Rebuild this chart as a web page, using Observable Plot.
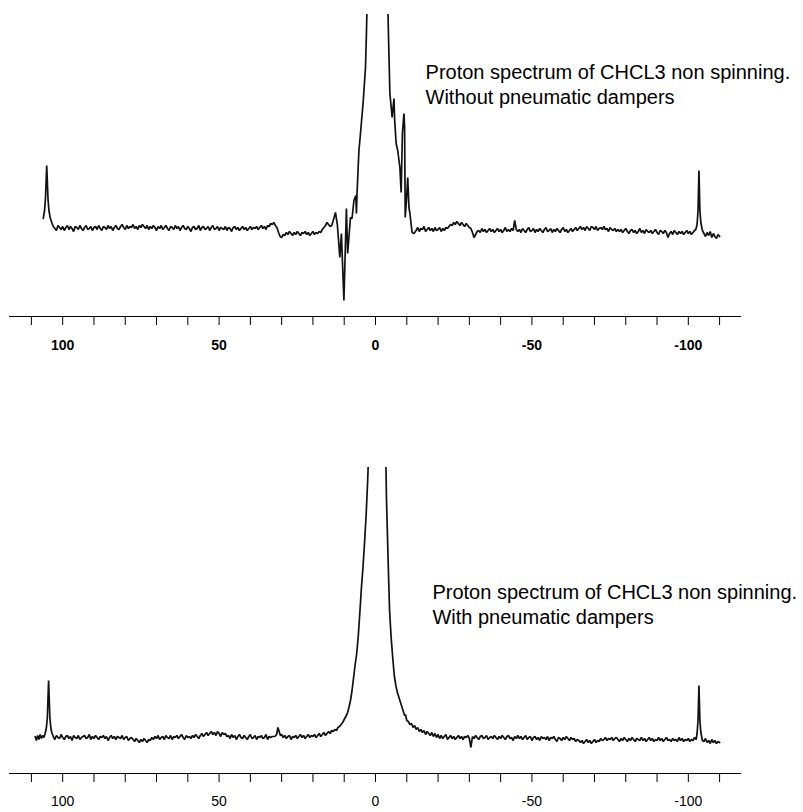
<!DOCTYPE html>
<html>
<head>
<meta charset="utf-8">
<script src="https://cdn.jsdelivr.net/npm/d3@7"></script>
<script src="https://cdn.jsdelivr.net/npm/@observablehq/plot@0.6"></script>
<style>
  html, body { margin: 0; padding: 0; background: #fff; }
  #top, #bottom { display: block; width: 803px; }
  svg { display: block; }
</style>
</head>
<body>
<div id="top"></div>
<div id="bottom"></div>
<script>
// ---------- axis ----------
const xDomain = [117, -117];
const tickValues = [110, 100, 90, 80, 70, 60, 50, 40, 30, 20, 10, 0, -10, -20, -30, -40, -50, -60, -70, -80, -90, -100, -110];
const labelValues = [100, 50, 0, -50, -100];
const baseStep = 0.5; // ppm spacing of the baseline samples below

// ---------- top spectrum (without dampers) ----------
const topYDomain = [-8.8, 21.4];
const topLeftPeak = [[106.2, 1.0], [105.8, 1.8], [105.5, 3.0], [105.1, 6.3], [104.7, 3.0], [104.4, 1.8], [104.0, 1.1], [103.5, 0.6]];
const topBaseAStart = 103;
const topBaseA = [
  0.2, 0.0, -0.2, 0.3, 0.1, -0.1, 0.2, -0.2, 0.1, 0.3,
  -0.1, 0.2, 0.0, -0.3, 0.2, 0.1, -0.1, 0.3, 0.0, -0.2,
  0.1, 0.3, -0.1, 0.0, 0.2, -0.2, 0.1, 0.2, -0.1, 0.3,
  0.0, -0.2, 0.2, 0.1, -0.1, 0.3, 0.0, 0.2, -0.2, 0.1,
  0.3, 0.0, -0.1, 0.2, 0.4, 0.1, -0.1, 0.3, 0.0, 0.2,
  0.1, 0.4, 0.0, 0.2, -0.1, 0.3, 0.1, 0.4, 0.2, 0.0,
  0.3, -0.1, 0.2, 0.0, 0.3, 0.1, -0.2, 0.2, 0.0, 0.3,
  -0.1, 0.1, 0.3, 0.0, -0.2, 0.2, 0.1, -0.1, 0.3, 0.0,
  0.2, -0.2, 0.1, 0.3, 0.0, -0.1, 0.2, 0.0, -0.3, 0.1,
  0.2, -0.1, 0.0, 0.3, -0.2, 0.1, 0.2, -0.1, 0.0, 0.2,
  -0.2, 0.1, 0.3, -0.1, 0.0, 0.2, -0.2, 0.1, 0.0, -0.1,
  0.2, -0.2, 0.1, 0.0, -0.3, 0.1, 0.2, -0.1, 0.1, -0.2,
  0.0, 0.2, -0.1, 0.1, -0.2, 0.0, 0.2, -0.1, 0.1, 0.0,
  0.2, -0.1, 0.1, 0.3, 0.0, 0.2, -0.1, 0.3, 0.2, 0.5,
  0.4, 0.6, 0.3, 0.1, -0.4, -0.8, -0.9, -0.6, -0.7, -0.4,
  -0.6, -0.3, -0.5, -0.7, -0.4, -0.6, -0.3, -0.5, -0.7, -0.4,
  -0.5, -0.3, -0.6, -0.4, -0.7, -0.5, -0.3, -0.6, -0.4, -0.5,
  -0.3, -0.4, -0.1, 0.1, 0.3, 0.6, 0.4, 0.2, 0.3
];
const topCenter = [
  [13.5, 0.8], [12.8, 1.6], [12.2, 0.4], [11.4, -2.9], [10.9, -0.5], [10.1, -7.2], [9.3, 2.0],
  [8.9, -2.5], [8.0, 1.1], [7.5, 1.0], [6.9, 2.8], [6.3, 3.3], [6.1, 1.5], [5.9, 3.5],
  [5.3, 7.8], [4.8, 9.5], [3.9, 12.8], [3.2, 16.1], [2.9, 19.5], [2.5, 25], [1.5, 40],
  [0, 60], [-1.5, 60], [-3.2, 40], [-3.95, 22], [-4.6, 13.5], [-5.0, 12.2], [-5.3, 11.1],
  [-5.9, 13.0], [-6.1, 11.0], [-6.6, 8.5], [-7.1, 7.8], [-7.8, 6.1], [-8.2, 3.6], [-8.6, 9.5],
  [-9.1, 11.5], [-9.3, 10.1], [-9.5, 1.1], [-9.9, 2.8], [-10.3, 5.1], [-10.7, 2.1], [-11.0, 1.5],
  [-11.7, -0.4], [-12.3, -0.5]
];
const topBaseBStart = -13;
const topBaseB = [
  -0.2, 0.1, -0.3, 0.0, -0.1, 0.2, -0.3, -0.1, 0.1, -0.2,
  0.0, -0.3, 0.1, -0.2, -0.1, 0.1, -0.3, 0.0, -0.2, 0.1,
  0.0, 0.2, 0.4, 0.3, 0.6, 0.4, 0.7, 0.5, 0.3, 0.6,
  0.4, 0.2, 0.5, 0.3, 0.1, 0.0, -0.4, -0.9, -0.6, -0.3,
  -0.2, -0.4, 0.0, -0.3, -0.1, -0.4, -0.2, 0.0, -0.3, -0.1,
  -0.4, -0.2, 0.0, -0.3, -0.1, -0.4, -0.2, 0.1, -0.3, -0.1,
  -0.3, 0.0, -0.2, 0.8, -0.1, -0.3, -0.1, -0.4, 0.0, -0.2,
  -0.4, -0.1, 0.1, -0.3, -0.2, 0.0, -0.4, -0.1, -0.3, 0.0,
  -0.2, -0.4, -0.1, 0.1, -0.3, -0.2, 0.0, -0.4, -0.1, -0.3,
  0.0, -0.2, -0.4, -0.1, 0.1, -0.3, -0.1, -0.4, -0.2, 0.0,
  -0.3, -0.1, 0.1, -0.2, 0.0, 0.2, -0.1, 0.1, -0.2, 0.2,
  0.0, -0.2, 0.2, 0.1, -0.1, 0.2, -0.2, 0.0, 0.1, -0.1,
  0.2, -0.1, 0.0, -0.3, 0.1, -0.1, -0.2, 0.0, -0.3, -0.1,
  -0.3, -0.1, -0.4, -0.2, 0.0, -0.3, -0.5, -0.2, -0.1, -0.4,
  -0.2, -0.5, -0.3, 0.0, -0.4, -0.2, -0.5, -0.1, -0.3, -0.4,
  -0.2, -0.5, -0.3, -0.1, -0.4, -0.6, -0.2, -0.3, -0.5, -0.2,
  -0.4, -0.9, -0.5, -0.3, -0.6, -0.2, -0.4, -0.6, -0.3, -0.5,
  -0.3, -0.6, -0.4, -0.2, -0.5, -0.3, -0.6, -0.4, -0.2
];
const topRightPeak = [[-102.4, -0.1], [-102.8, 0.4], [-103.1, 1.8], [-103.4, 5.8], [-103.7, 1.8], [-104.0, 0.6], [-104.5, -0.2]];
const topBaseCStart = -105;
const topBaseC = [-0.5, -0.8, -0.4, -0.7, -0.3, -0.9, -0.5, -0.8, -1.0, -0.6, -0.8];
const topNote = [{ppm: -16, v: 14.5, text: "Proton spectrum of CHCL3 non spinning.\nWithout pneumatic dampers"}];

// ---------- bottom spectrum (with dampers) ----------
const botYDomain = [-3.6, 27.0];
const botLeftPeak = [[108.8, 0.1], [108.4, -0.3], [108.0, 0.2], [107.6, -0.2], [107.2, 0.3], [106.8, -0.1], [106.4, 0.2], [106.0, 0.0], [105.6, 0.4], [105.2, 1.0], [104.9, 2.0], [104.5, 5.7], [104.1, 2.0], [103.8, 1.0], [103.5, 0.5]];
const botBaseAStart = 103;
const botBaseA = [
  0.1, -0.2, 0.2, 0.0, -0.1, 0.3, 0.0, -0.2, 0.1, 0.2,
  -0.1, 0.1, -0.3, 0.2, 0.0, -0.1, 0.2, -0.2, 0.0, 0.1,
  0.2, -0.1, 0.0, 0.3, -0.2, 0.1, -0.1, 0.2, 0.0, -0.2,
  0.1, 0.0, 0.2, -0.1, 0.1, -0.3, 0.0, 0.2, -0.1, 0.1,
  -0.2, 0.1, 0.0, -0.1, 0.2, -0.2, 0.0, 0.1, -0.3, -0.1,
  0.0, -0.2, -0.4, -0.1, -0.3, -0.5, -0.2, -0.4, -0.1, -0.3,
  -0.5, -0.2, -0.3, 0.0, -0.2, 0.1, -0.1, 0.2, -0.2, 0.0,
  0.1, -0.2, 0.2, 0.0, -0.1, 0.2, -0.2, 0.1, 0.0, 0.2,
  -0.1, 0.1, 0.3, 0.0, -0.2, 0.2, 0.0, 0.1, -0.1, 0.2,
  0.0, 0.3, 0.1, -0.1, 0.2, 0.4, 0.1, 0.3, 0.5, 0.2,
  0.4, 0.6, 0.3, 0.5, 0.2, 0.6, 0.4, 0.1, 0.5, 0.3,
  0.4, 0.1, 0.2, -0.1, 0.3, 0.0, 0.2, -0.2, 0.1, 0.3,
  0.0, -0.1, 0.2, 0.0, -0.2, 0.1, 0.3, -0.1, 0.0, 0.2,
  -0.2, 0.1, 0.0, 0.2, -0.1, 0.0, 0.3, -0.2, 0.1, 0.0,
  0.1
];
const botSpike = [[32.2, 0.1], [31.6, 0.3], [31.2, 1.0], [30.8, 0.6], [30.4, 0.2]];
const botBaseBStart = 30;
const botBaseB = [
  0.3, 0.0, 0.2, -0.1, 0.1, 0.2, -0.2, 0.1, 0.0, 0.2,
  -0.1, 0.1, 0.3, 0.0, 0.2, -0.1, 0.1, 0.3, 0.0, 0.2,
  0.1, 0.3, 0.0, 0.2, 0.4, 0.1, 0.3, 0.5, 0.2, 0.4,
  0.6, 0.4, 0.7
];
const botCenter = [
  [13.5, 0.6], [13, 0.8], [12.5, 0.7], [12, 1.0], [11.5, 1.1], [11, 1.3], [10.5, 1.5], [10, 1.8],
  [9.5, 2.1], [9, 2.4], [8.5, 3.0], [8, 3.7], [7.5, 4.7], [7, 6.0], [6.5, 7.3], [6, 8.4],
  [5.5, 10.2], [5, 12.5], [4.5, 15.0], [4, 17.0], [3.5, 19.5], [3, 22.2], [2.5, 25.7], [2, 30],
  [1, 50], [0, 80], [-1.5, 80], [-2.5, 50], [-3.2, 30], [-3.5, 24], [-3.8, 20.5], [-4.1, 17],
  [-4.5, 12.7], [-5, 10], [-5.5, 8], [-6, 6.2], [-6.5, 5.2], [-7, 4.5], [-7.5, 4.0], [-8, 3.5],
  [-8.5, 3.0], [-9, 2.5], [-9.3, 2.2], [-9.6, 2.3], [-10, 1.7], [-10.5, 1.6], [-11, 1.3], [-11.5, 1.4],
  [-12, 1.0], [-12.5, 1.2], [-13, 0.8], [-13.5, 1.0], [-14, 0.6], [-14.5, 0.8], [-15, 0.5], [-15.5, 0.7],
  [-16, 0.3], [-16.5, 0.6], [-17, 0.4], [-17.5, 0.2], [-18, 0.5], [-18.5, 0.1], [-19, 0.4], [-19.5, 0.0],
  [-20, 0.3], [-20.5, -0.1]
];
const botBaseCStart = -21;
const botBaseC = [
  0.2, -0.1, 0.1, 0.3, -0.2, 0.0, 0.2, -0.1, 0.1, -0.2,
  0.0, 0.2, -0.1, 0.1, -0.2, 0.1, 0.0, 0.2, -0.1, -1.0,
  0.1, -0.1, 0.2, 0.0, -0.2, 0.1, 0.2, -0.1, 0.0, 0.2,
  -0.2, 0.0, 0.1, -0.1, 0.2, 0.0, -0.2, 0.1, -0.1, 0.2,
  0.0, -0.2, 0.1, 0.2, -0.1, 0.0, -0.3, 0.1, -0.1, 0.2,
  -0.1, 0.1, -0.2, 0.0, 0.2, -0.2, 0.0, 0.1, -0.3, 0.0,
  0.1, -0.2, 0.0, -0.3, 0.1, -0.1, 0.0, -0.2, 0.1, -0.3,
  0.0, -0.1, 0.1, -0.2, -0.4, 0.0, -0.1, -0.3, 0.0, -0.2,
  0.1, -0.1, -0.3, 0.0, -0.2, -0.1, -0.4, -0.2, -0.3, -0.5,
  -0.3, -0.6, -0.4, -0.2, -0.5, -0.3, -0.6, -0.4, -0.2, -0.5,
  -0.3, -0.4, -0.1, -0.3, -0.2, 0.0, -0.3, -0.1, -0.2, 0.0,
  -0.3, -0.1, 0.0, -0.2, -0.4, -0.1, -0.3, 0.0, -0.2, -0.4,
  -0.1, -0.3, 0.0, -0.2, -0.4, -0.1, -0.2, -0.3, 0.0, -0.3,
  -0.1, -0.4, -0.2, 0.0, -0.3, -0.1, -0.4, -0.2, -0.3, 0.0,
  -0.3, -0.1, -0.4, -0.2, 0.0, -0.3, -0.2, -0.4, -0.1, -0.3,
  -0.2, -0.4, 0.0, -0.3, -0.1, -0.4, -0.2, -0.3, -0.1, -0.4,
  -0.2
];
const botRightPeak = [[-101.5, -0.3], [-102.0, 0.0], [-102.5, -0.2], [-102.8, 0.4], [-103.1, 1.7], [-103.4, 5.2], [-103.7, 1.7], [-104.0, 0.5], [-104.5, -0.3]];
const botBaseDStart = -105;
const botBaseD = [-0.4, -0.1, -0.5, -0.3, -0.6, -0.2, -0.5, -0.3, -0.6, -0.4, -0.5];
const botNote = [{ppm: -18.2, v: 13.4, text: "Proton spectrum of CHCL3 non spinning.\nWith pneumatic dampers"}];

// ---------- assembly ----------
const pts = arr => arr.map(([ppm, v]) => ({ppm, v}));
const seg = (start, vals) => vals.map((v, i) => ({ppm: start - i * baseStep, v}));

const topData = [
  ...pts(topLeftPeak), ...seg(topBaseAStart, topBaseA), ...pts(topCenter),
  ...seg(topBaseBStart, topBaseB), ...pts(topRightPeak), ...seg(topBaseCStart, topBaseC)
];
const botData = [
  ...pts(botLeftPeak), ...seg(botBaseAStart, botBaseA), ...pts(botSpike), ...seg(botBaseBStart, botBaseB),
  ...pts(botCenter), ...seg(botBaseCStart, botBaseC), ...pts(botRightPeak), ...seg(botBaseDStart, botBaseD)
];

const font = "'Liberation Sans', Arial, Helvetica, sans-serif";

function panel(data, yDomain, note, opts) {
  return Plot.plot({
    width: 803,
    height: opts.height,
    marginLeft: 9,
    marginRight: 62,
    marginTop: opts.marginTop,
    marginBottom: opts.marginBottom,
    x: {domain: xDomain},
    y: {domain: yDomain, axis: null},
    style: {fontFamily: font, background: "#fff", color: "#000", overflow: "visible"},
    marks: [
      Plot.ruleY([yDomain[0]], {stroke: "#000", strokeWidth: 1.2}),
      Plot.axisX({
        ticks: tickValues,
        tickSize: 9,
        tickPadding: opts.tickPadding,
        tickFormat: d => labelValues.includes(d) ? String(d) : "",
        fontSize: 14,
        fontWeight: opts.bold ? "bold" : "normal",
        stroke: "#000",
        strokeOpacity: 1,
        label: null
      }),
      Plot.line(data, {x: "ppm", y: "v", stroke: "#111", strokeWidth: 1.7, strokeLinejoin: "miter", clip: true}),
      Plot.text(note, {x: "ppm", y: "v", text: "text", textAnchor: "start", lineAnchor: "middle", lineHeight: 1.25, fontSize: 20, fill: "#000"})
    ]
  });
}

document.getElementById("top").append(
  panel(topData, topYDomain, topNote, {height: 400, marginTop: 14, marginBottom: 84, tickPadding: 15, bold: true})
);
document.getElementById("bottom").append(
  panel(botData, botYDomain, botNote, {height: 412, marginTop: 67, marginBottom: 39, tickPadding: 14, bold: false})
);
</script>
</body>
</html>
